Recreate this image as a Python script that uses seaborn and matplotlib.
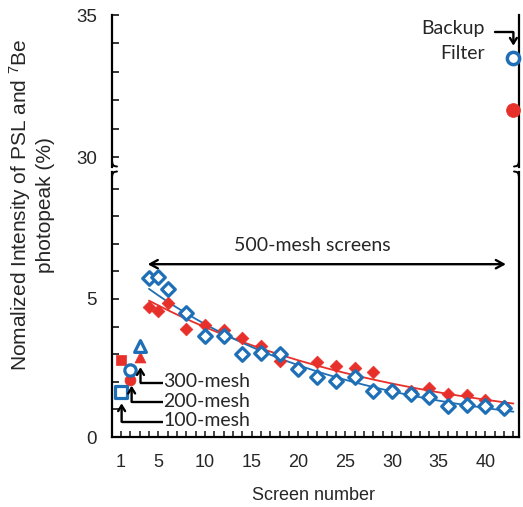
import numpy as np
import matplotlib
matplotlib.use("Agg")
import matplotlib.pyplot as plt
import seaborn as sns
from matplotlib.lines import Line2D
from matplotlib.ticker import MultipleLocator, FuncFormatter, FixedLocator

# ---------------- data ----------------
screens_500 = [4, 5, 6, 8, 10, 12, 14, 16, 18, 20, 22, 24, 26, 28, 30, 32, 34, 36, 38, 40, 42]
psl_500 = [5.75, 5.80, 5.35, 4.50, 3.66, 3.66, 3.02, 3.05, 3.00, 2.45, 2.17,
           2.03, 2.17, 1.67, 1.67, 1.55, 1.45, 1.12, 1.15, 1.12, 1.06]
be_500 = [4.71, 4.57, 4.87, 3.90, 4.06, 3.88, 3.58, 3.30, 2.75, 2.54, 2.72,
          2.57, 2.51, 2.37, 1.73, 1.67, 1.79, 1.57, 1.51, 1.34, 1.12]
mesh_screens = [1, 2, 3]
mesh_labels = ["100-mesh", "200-mesh", "300-mesh"]
psl_mesh = [1.64, 2.42, 3.30]
be_mesh = [2.79, 2.05, 2.90]
mesh_markers = ["s", "o", "^"]
backup_x = 43
psl_backup = 33.48
be_backup = 31.65
x_tick_values = [1, 5, 10, 15, 20, 25, 30, 35, 40]

BLUE = "#1F6FB6"
RED = "#E8302A"

sns.set_style("white")
plt.rcParams['font.family'] = ['Liberation Sans', 'DejaVu Sans']
plt.rcParams['mathtext.fontset'] = 'custom'
plt.rcParams['mathtext.rm'] = 'Liberation Sans'
plt.rcParams['mathtext.it'] = 'Liberation Sans:italic'
AX_FONT = ['Liberation Sans', 'DejaVu Sans']
ANN_FONT = ['Lato', 'DejaVu Sans']

W, H = 523, 507
fig = plt.figure(figsize=(W / 100, H / 100), dpi=100)


def fx(px):
    return px / W


def fy(py):
    return 1 - py / H


L, R = 112, 519
ax_top = fig.add_axes([fx(L), fy(167), fx(R) - fx(L), fy(15) - fy(167)])
ax_bot = fig.add_axes([fx(L), fy(437), fx(R) - fx(L), fy(172) - fy(437)])

XLIM = (0.04, 43.6)
for ax in (ax_top, ax_bot):
    ax.set_xlim(*XLIM)
    ax.set_facecolor('white')
    for s in ax.spines.values():
        s.set_color('black')
        s.set_linewidth(1.6)
    ax.spines['top'].set_visible(False)

ax_top.set_ylim(29.65, 35)
ax_bot.set_ylim(0, 9.6)
ax_top.spines['bottom'].set_visible(False)

# ---------------- fitted trend lines ----------------
fit_x = np.linspace(4, 43, 200)
kb, cb = np.polyfit(screens_500, np.log(psl_500), 1)
kr, cr = np.polyfit(screens_500, np.log(be_500), 1)
sns.lineplot(x=fit_x, y=np.exp(cr + kr * fit_x), color=RED, lw=1.3, ax=ax_bot, zorder=2)
sns.lineplot(x=fit_x, y=np.exp(cb + kb * fit_x), color=BLUE, lw=1.3, ax=ax_bot, zorder=2)

# ---------------- points ----------------
sns.scatterplot(x=screens_500, y=be_500, marker='D', s=42, color=RED,
                edgecolor=RED, linewidth=0.5, ax=ax_bot, zorder=3)
sns.scatterplot(x=screens_500, y=psl_500, marker='D', s=48, color=BLUE,
                facecolor='white', edgecolor=BLUE, linewidth=2.3, ax=ax_bot, zorder=4)
red_sizes = [58, 62, 62]
blue_sizes = [80, 66, 72]
for xv, yr, yb, mk, sr, sb in zip(mesh_screens, be_mesh, psl_mesh, mesh_markers,
                                  red_sizes, blue_sizes):
    sns.scatterplot(x=[xv], y=[yr], marker=mk, s=sr, color=RED, edgecolor=RED,
                    linewidth=0.5, ax=ax_bot, zorder=3)
    sns.scatterplot(x=[xv], y=[yb], marker=mk, s=sb, color=BLUE, facecolor='white',
                    edgecolor=BLUE, linewidth=2.3, ax=ax_bot, zorder=4)

sns.scatterplot(x=[backup_x], y=[be_backup], marker='o', s=100, color=RED,
                edgecolor=RED, linewidth=0.5, ax=ax_top, zorder=3, clip_on=False)
sns.scatterplot(x=[backup_x], y=[psl_backup], marker='o', s=78, color=BLUE,
                facecolor='white', edgecolor=BLUE, linewidth=2.5, ax=ax_top, zorder=4,
                clip_on=False)

# ---------------- ticks ----------------
ax_top.xaxis.set_visible(False)
ax_bot.xaxis.set_major_locator(FixedLocator(x_tick_values))
ax_bot.xaxis.set_minor_locator(FixedLocator(list(range(1, 44))))
ax_bot.tick_params(axis='x', which='both', direction='in', length=4, width=1.2,
                   pad=12, labelsize=13, bottom=True, top=False)

five_only = FuncFormatter(lambda v, p: f"{v:.0f}" if abs(v % 5) < 1e-6 else "")
for ax in (ax_top, ax_bot):
    ax.yaxis.set_major_locator(MultipleLocator(1))
    ax.yaxis.set_major_formatter(five_only)
    ax.tick_params(axis='y', which='both', direction='in', length=5, width=1.3,
                   pad=11, labelsize=13.5, left=True, right=False)
    for t in ax.get_xticklabels() + ax.get_yticklabels():
        t.set_family(AX_FONT)

# ---------------- labels ----------------
ax_bot.set_xlabel("Screen number", fontsize=13, family=AX_FONT)
ax_bot.xaxis.set_label_coords((313 - L) / (R - L), (437 - 495) / 265)
ax_bot.xaxis.label.set_va('center')
ax_bot.set_ylabel("Nomalized Intensity of PSL and $^{7}$Be\nphotopeak (%)",
                  fontsize=15, linespacing=1.25, multialignment='center', family=AX_FONT)
ax_bot.yaxis.set_label_coords((31 - L) / (R - L), (437 - 205) / 265)
ax_bot.yaxis.label.set_va('center')

# ---------------- annotations ----------------
arrow_kw = dict(color='black', lw=1.7, shrinkA=0, shrinkB=0)
ax_bot.annotate('', xy=(3.86, 6.26), xytext=(42.2, 6.26),
                arrowprops=dict(arrowstyle='<->,head_length=0.55,head_width=0.3', **arrow_kw))
ax_bot.text(21.5, 6.95, "500-mesh screens", ha='center', va='center', fontsize=14,
            family=ANN_FONT)

mesh_arrow_x = [1.07, 2.14, 3.09]
mesh_arrow_tip = [1.22, 1.86, 2.53]
mesh_arrow_y = [0.55, 1.27, 1.97]
for lab, xa, yt, yh in zip(mesh_labels, mesh_arrow_x, mesh_arrow_tip, mesh_arrow_y):
    ax_bot.plot([5.5, xa], [yh, yh], color='black', lw=1.7, zorder=5,
                solid_capstyle='butt')
    ax_bot.annotate('', xy=(xa, yt), xytext=(xa, yh),
                    arrowprops=dict(arrowstyle='->,head_length=0.4,head_width=0.25',
                                    **arrow_kw), zorder=5)
    ax_bot.text(5.55, yh + 0.03, lab, ha='left', va='center', fontsize=14,
                family=ANN_FONT, zorder=5)

ax_top.plot([41.0, backup_x], [34.39, 34.39], color='black', lw=1.7, clip_on=False)
ax_top.annotate('', xy=(backup_x, 33.92), xytext=(backup_x, 34.39),
                arrowprops=dict(arrowstyle='->,head_length=0.4,head_width=0.25', **arrow_kw),
                annotation_clip=False)
ax_top.text(39.9, 34.53, "Backup", ha='right', va='center', fontsize=14, family=ANN_FONT)
ax_top.text(39.9, 33.65, "Filter", ha='right', va='center', fontsize=14, family=ANN_FONT)

# ---------------- axis-break marks ----------------
def brk(points):
    xs = [fx(p[0]) for p in points]
    ys = [fy(p[1]) for p in points]
    fig.add_artist(Line2D(xs, ys, color='black', lw=1.4, transform=fig.transFigure))

brk([(L, 161), (L + 0.5, 164), (L + 2, 166), (L + 5, 166.5)])
brk([(L + 5, 171.5), (L + 2, 172), (L + 0.5, 174), (L, 177)])
brk([(R, 161), (R - 0.5, 164), (R - 2, 166), (R - 5, 166.5)])
brk([(R - 5, 171.5), (R - 2, 172), (R - 0.5, 174), (R, 177)])

fig.savefig("out.png", dpi=100)
